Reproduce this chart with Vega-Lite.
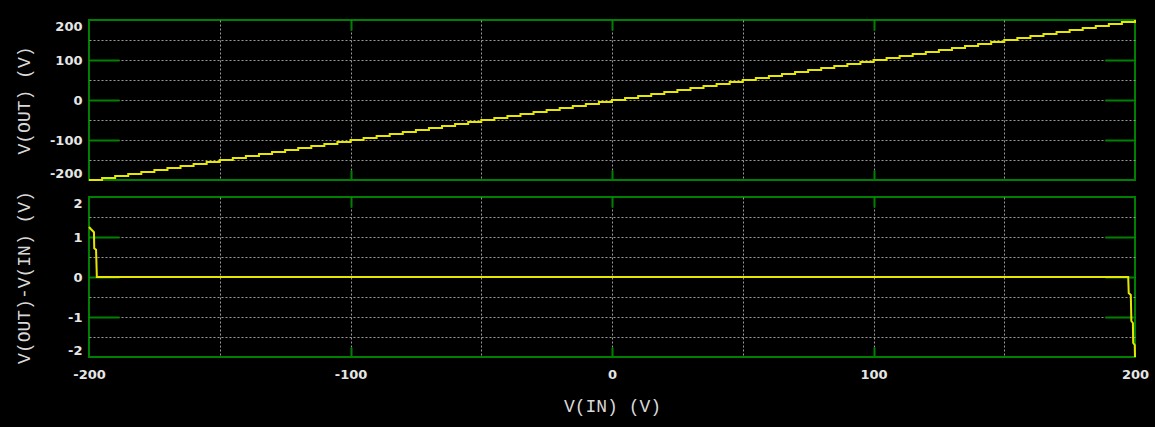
{
  "$schema": "https://vega.github.io/schema/vega-lite/v6.json",
  "background": "black",
  "padding": {"left": 14, "top": 15, "right": 15, "bottom": 25},
  "spacing": 17,
  "bounds": "flush",
  "datasets": {
    "out": [
      {"vin": -200, "vout": -200}, {"vin": -195, "vout": -195}, {"vin": -190, "vout": -190}, {"vin": -185, "vout": -185},
      {"vin": -180, "vout": -180}, {"vin": -175, "vout": -175}, {"vin": -170, "vout": -170}, {"vin": -165, "vout": -165},
      {"vin": -160, "vout": -160}, {"vin": -155, "vout": -155}, {"vin": -150, "vout": -150}, {"vin": -145, "vout": -145},
      {"vin": -140, "vout": -140}, {"vin": -135, "vout": -135}, {"vin": -130, "vout": -130}, {"vin": -125, "vout": -125},
      {"vin": -120, "vout": -120}, {"vin": -115, "vout": -115}, {"vin": -110, "vout": -110}, {"vin": -105, "vout": -105},
      {"vin": -100, "vout": -100}, {"vin": -95, "vout": -95}, {"vin": -90, "vout": -90}, {"vin": -85, "vout": -85},
      {"vin": -80, "vout": -80}, {"vin": -75, "vout": -75}, {"vin": -70, "vout": -70}, {"vin": -65, "vout": -65},
      {"vin": -60, "vout": -60}, {"vin": -55, "vout": -55}, {"vin": -50, "vout": -50}, {"vin": -45, "vout": -45},
      {"vin": -40, "vout": -40}, {"vin": -35, "vout": -35}, {"vin": -30, "vout": -30}, {"vin": -25, "vout": -25},
      {"vin": -20, "vout": -20}, {"vin": -15, "vout": -15}, {"vin": -10, "vout": -10}, {"vin": -5, "vout": -5},
      {"vin": 0, "vout": 0}, {"vin": 5, "vout": 5}, {"vin": 10, "vout": 10}, {"vin": 15, "vout": 15},
      {"vin": 20, "vout": 20}, {"vin": 25, "vout": 25}, {"vin": 30, "vout": 30}, {"vin": 35, "vout": 35},
      {"vin": 40, "vout": 40}, {"vin": 45, "vout": 45}, {"vin": 50, "vout": 50}, {"vin": 55, "vout": 55},
      {"vin": 60, "vout": 60}, {"vin": 65, "vout": 65}, {"vin": 70, "vout": 70}, {"vin": 75, "vout": 75},
      {"vin": 80, "vout": 80}, {"vin": 85, "vout": 85}, {"vin": 90, "vout": 90}, {"vin": 95, "vout": 95},
      {"vin": 100, "vout": 100}, {"vin": 105, "vout": 105}, {"vin": 110, "vout": 110}, {"vin": 115, "vout": 115},
      {"vin": 120, "vout": 120}, {"vin": 125, "vout": 125}, {"vin": 130, "vout": 130}, {"vin": 135, "vout": 135},
      {"vin": 140, "vout": 140}, {"vin": 145, "vout": 145}, {"vin": 150, "vout": 150}, {"vin": 155, "vout": 155},
      {"vin": 160, "vout": 160}, {"vin": 165, "vout": 165}, {"vin": 170, "vout": 170}, {"vin": 175, "vout": 175},
      {"vin": 180, "vout": 180}, {"vin": 185, "vout": 185}, {"vin": 190, "vout": 190}, {"vin": 195, "vout": 195},
      {"vin": 200, "vout": 200}
    ],
    "err": [
      {"vin": -200, "verr": 1.25}, {"vin": -199.3, "verr": 1.2}, {"vin": -198.1, "verr": 1.12},
      {"vin": -198.0, "verr": 0.72}, {"vin": -197.3, "verr": 0.68}, {"vin": -197.0, "verr": 0},
      {"vin": 197.4, "verr": 0}, {"vin": 197.6, "verr": -0.4}, {"vin": 198.4, "verr": -0.45},
      {"vin": 198.6, "verr": -1.1}, {"vin": 199.2, "verr": -1.15}, {"vin": 199.3, "verr": -1.65},
      {"vin": 199.9, "verr": -1.7}, {"vin": 200, "verr": -2.0}
    ]
  },
  "config": {
    "view": {"stroke": "#008000", "strokeWidth": 2},
    "axis": {
      "domain": false,
      "labelColor": "#e6e6e6",
      "labelFont": "DejaVu Sans",
      "labelFontSize": 13,
      "labelFontWeight": "bold",
      "labelOverlap": false,
      "titleColor": "#d9d9d9",
      "titleFont": "Liberation Mono",
      "titleFontSize": 18,
      "titleFontWeight": "normal",
      "gridColor": "#9a9a9a",
      "gridDash": [2, 2],
      "gridWidth": 1,
      "tickColor": "#008000",
      "tickWidth": 2
    }
  },
  "vconcat": [
    {
      "width": 1046,
      "height": 160,
      "data": {"name": "out"},
      "layer": [
        {
          "mark": {"type": "line", "opacity": 0},
          "encoding": {
            "x": {"field": "vin", "type": "quantitative", "scale": {"domain": [-200, 200], "nice": false, "zero": false},
              "axis": {"orient": "top", "values": [-200, -150, -100, -50, 0, 50, 100, 150, 200], "labels": false, "grid": false, "title": null,
                "tickSize": -10, "tickOpacity": {"condition": {"test": "datum.value % 100 === 0 && abs(datum.value) < 200", "value": 1}, "value": 0}}},
            "y": {"field": "vout", "type": "quantitative", "scale": {"domain": [-200, 200], "nice": false, "zero": false},
              "axis": {"orient": "right", "values": [-200, -150, -100, -50, 0, 50, 100, 150, 200], "labels": false, "grid": false, "title": null,
                "tickSize": -30, "tickOpacity": {"condition": {"test": "datum.value % 100 === 0 && abs(datum.value) < 200", "value": 1}, "value": 0}}}
          }
        },
        {
          "mark": {"type": "line", "color": "#e6e600", "strokeWidth": 2, "interpolate": "step-after"},
          "encoding": {
            "x": {"field": "vin", "type": "quantitative", "scale": {"domain": [-200, 200], "nice": false, "zero": false},
              "axis": {"orient": "bottom", "values": [-200, -150, -100, -50, 0, 50, 100, 150, 200], "labels": false, "title": null, "grid": true,
                "gridOpacity": {"condition": {"test": "abs(datum.value) < 200", "value": 1}, "value": 0},
                "tickSize": -10, "tickOpacity": {"condition": {"test": "datum.value % 100 === 0 && abs(datum.value) < 200", "value": 1}, "value": 0}}},
            "y": {"field": "vout", "type": "quantitative", "scale": {"domain": [-200, 200], "nice": false, "zero": false},
              "axis": {"orient": "left", "values": [-200, -150, -100, -50, 0, 50, 100, 150, 200], "title": "V(OUT) (V)", "grid": true,
                "gridOpacity": {"condition": {"test": "abs(datum.value) < 200", "value": 1}, "value": 0},
                "labelExpr": "datum.value % 100 === 0 ? '' + datum.value : ''", "labelFlush": true, "labelPadding": 37,
                "minExtent": 41, "maxExtent": 41, "titlePadding": 15,
                "tickSize": -30, "tickOpacity": {"condition": {"test": "datum.value % 100 === 0 && abs(datum.value) < 200", "value": 1}, "value": 0}}}
          }
        }
      ]
    },
    {
      "width": 1046,
      "height": 160,
      "data": {"name": "err"},
      "layer": [
        {
          "mark": {"type": "line", "opacity": 0},
          "encoding": {
            "x": {"field": "vin", "type": "quantitative", "scale": {"domain": [-200, 200], "nice": false, "zero": false},
              "axis": {"orient": "top", "values": [-200, -150, -100, -50, 0, 50, 100, 150, 200], "labels": false, "grid": false, "title": null,
                "tickSize": -10, "tickOpacity": {"condition": {"test": "datum.value % 100 === 0 && abs(datum.value) < 200", "value": 1}, "value": 0}}},
            "y": {"field": "verr", "type": "quantitative", "scale": {"domain": [-2, 2], "nice": false, "zero": false},
              "axis": {"orient": "right", "values": [-2, -1.5, -1, -0.5, 0, 0.5, 1, 1.5, 2], "labels": false, "grid": false, "title": null,
                "tickSize": -30, "tickOpacity": {"condition": {"test": "datum.value % 1 === 0 && abs(datum.value) < 2", "value": 1}, "value": 0}}}
          }
        },
        {
          "mark": {"type": "line", "color": "#e6e600", "strokeWidth": 2},
          "encoding": {
            "x": {"field": "vin", "type": "quantitative", "scale": {"domain": [-200, 200], "nice": false, "zero": false},
              "axis": {"orient": "bottom", "values": [-200, -150, -100, -50, 0, 50, 100, 150, 200], "title": "V(IN) (V)", "grid": true,
                "gridOpacity": {"condition": {"test": "abs(datum.value) < 200", "value": 1}, "value": 0},
                "labelExpr": "datum.value % 100 === 0 ? '' + datum.value : ''", "labelFlush": false, "labelPadding": 21,
                "minExtent": 25, "maxExtent": 25, "titlePadding": 15,
                "tickSize": -10, "tickOpacity": {"condition": {"test": "datum.value % 100 === 0 && abs(datum.value) < 200", "value": 1}, "value": 0}}},
            "y": {"field": "verr", "type": "quantitative", "scale": {"domain": [-2, 2], "nice": false, "zero": false},
              "axis": {"orient": "left", "values": [-2, -1.5, -1, -0.5, 0, 0.5, 1, 1.5, 2], "title": "V(OUT)-V(IN) (V)", "grid": true,
                "gridOpacity": {"condition": {"test": "abs(datum.value) < 2", "value": 1}, "value": 0},
                "labelExpr": "datum.value % 1 === 0 ? '' + datum.value : ''", "labelFlush": true, "labelPadding": 37,
                "minExtent": 41, "maxExtent": 41, "titlePadding": 15,
                "tickSize": -30, "tickOpacity": {"condition": {"test": "datum.value % 1 === 0 && abs(datum.value) < 2", "value": 1}, "value": 0}}}
          }
        }
      ]
    }
  ]
}
